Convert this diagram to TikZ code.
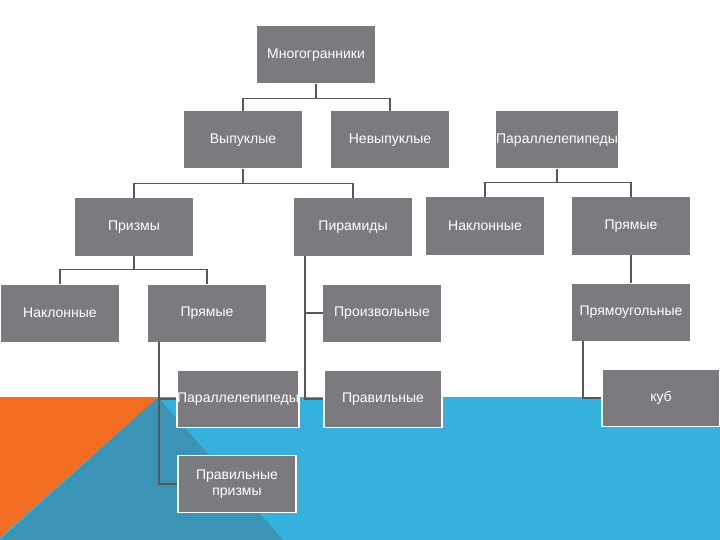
\documentclass[tikz,border=0pt]{standalone}
\usepackage{fontspec}
\setmainfont{Liberation Sans}
\usetikzlibrary{calc}
\definecolor{boxgray}{RGB}{123,122,127}
\definecolor{linkgray}{RGB}{88,88,88}
\definecolor{seablue}{RGB}{53,177,222}
\definecolor{deepblue}{RGB}{58,148,182}
\definecolor{flame}{RGB}{242,108,33}
\tikzset{box/.style={rectangle,fill=boxgray,text=white,minimum width=118pt,minimum height=57pt,
                     inner sep=0pt,align=center,font=\fontsize{14}{16.5}\selectfont},
         onblue/.style={box,draw=white,line width=1.5pt},
         link/.style={draw=linkgray,line width=1.5pt}}

\begin{document}
\begin{tikzpicture}[x=1pt,y=-1pt]
  \useasboundingbox (0,0) rectangle (720,540);
  % background
  \fill[white] (0,0) rectangle (720,540);
  \fill[seablue] (0,397) rectangle (720,540);
  \fill[deepblue] (158,397) -- (283,540) -- (0,540) -- cycle;
  \fill[flame] (0,397) -- (158,397) -- (0,537) -- cycle;
  % boxes
  \node[box] (poly) at (316,55) {Многогранники};
  \node[box] (convex) at (243,140) {Выпуклые};
  \node[box] (nonconvex) at (390,140) {Невыпуклые};
  \node[box] (parall) at (557,140) {Параллелепипеды};
  \node[box] (prism) at (134,227) {Призмы};
  \node[box] (pyr) at (353,227) {Пирамиды};
  \node[box] (obpar) at (485,226) {Наклонные};
  \node[box] (rtpar) at (631,226) {Прямые};
  \node[box] (obprism) at (60,313) {Наклонные};
  \node[box] (rtprism) at (207,313) {Прямые};
  \node[box] (arbpyr) at (382,313) {Произвольные};
  \node[box] (rect) at (631,312) {Прямоугольные};
  \node[onblue] (parprism) at (238,399) {Параллелепипеды};
  \node[onblue] (regpyr) at (383,399) {Правильные};
  \node[onblue] (cube) at (661,398) {куб};
  \node[onblue] (regprism) at (237,484) {Правильные\\призмы};
  % links
  \draw[link] (poly.south) -- ++(0,15) -| (convex.north);
  \draw[link] (poly.south) ++(0,15) -| (nonconvex.north);
  \draw[link] (convex.south) -- ++(0,15) -| (prism.north);
  \draw[link] (convex.south) ++(0,15) -| (pyr.north);
  \draw[link] (prism.south) -- ++(0,14) -| (obprism.north);
  \draw[link] (prism.south) ++(0,14) -| (rtprism.north);
  \draw[link] (parall.south) -- ++(0,14) -| (obpar.north);
  \draw[link] (parall.south) ++(0,14) -| (rtpar.north);
  \draw[link] (rtpar) -- (rect);
  \draw[link] ($(pyr.south west)+(11,0)$) |- (arbpyr.west);
  \draw[link] ($(pyr.south west)+(11,0)$) |- (regpyr.west);
  \draw[link] ($(rtprism.south west)+(11,0)$) |- (parprism.west);
  \draw[link] ($(rtprism.south west)+(11,0)$) |- (regprism.west);
  \draw[link] ($(rect.south west)+(11,0)$) |- (cube.west);
\end{tikzpicture}
\end{document}
